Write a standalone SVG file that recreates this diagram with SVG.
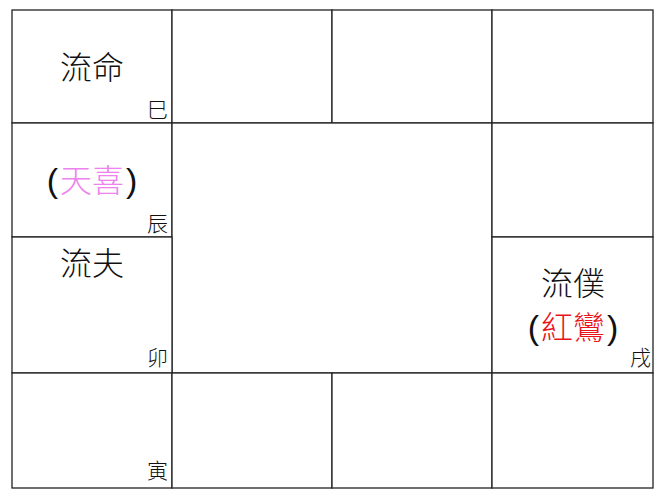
<svg xmlns="http://www.w3.org/2000/svg" width="661" height="495" viewBox="0 0 661 495">
<style>
.cell{fill:#fff;stroke:#222;stroke-width:1.3}
.main{font-family:"Noto Sans CJK TC","Noto Sans CJK SC",sans-serif;font-size:32px;font-weight:300;fill:#111;text-anchor:middle}
.par{font-family:"Liberation Sans","Noto Sans",sans-serif;font-weight:400;font-size:34px;fill:#111}
.br{font-family:"Noto Sans CJK TC","Noto Sans CJK SC",sans-serif;font-size:21px;font-weight:300;fill:#111;text-anchor:end}
.pink{fill:#EE82EE}
.red{fill:#E8141A}
</style>
<rect width="661" height="495" fill="#fff"/>
<g id="cell-si"><rect class="cell" x="12" y="10" width="160" height="113"/>
<text class="main" x="92" y="79">流命</text><text class="br" x="168" y="117">巳</text></g>
<g id="cell-wu"><rect class="cell" x="172" y="10" width="160" height="113"/></g>
<g id="cell-wei"><rect class="cell" x="332" y="10" width="160" height="113"/></g>
<g id="cell-shen"><rect class="cell" x="492" y="10" width="161" height="113"/></g>
<g id="cell-chen"><rect class="cell" x="12" y="123" width="160" height="114"/>
<text class="main" x="92" y="192"><tspan class="par">(</tspan><tspan class="pink" dx="2">天喜</tspan><tspan class="par" dx="2">)</tspan></text><text class="br" x="168" y="231">辰</text></g>
<g id="cell-center"><rect class="cell" x="172" y="123" width="320" height="250"/></g>
<g id="cell-you"><rect class="cell" x="492" y="123" width="161" height="114"/></g>
<g id="cell-mao"><rect class="cell" x="12" y="237" width="160" height="136"/>
<text class="main" x="92" y="275">流夫</text><text class="br" x="168" y="365">卯</text></g>
<g id="cell-xu"><rect class="cell" x="492" y="237" width="161" height="136"/>
<text class="main" x="573" y="295">流僕</text>
<text class="main" x="573" y="339"><tspan class="par">(</tspan><tspan class="red" dx="2">紅鸞</tspan><tspan class="par" dx="2">)</tspan></text><text class="br" x="651" y="365">戌</text></g>
<g id="cell-yin"><rect class="cell" x="12" y="373" width="160" height="115"/>
<text class="br" x="168" y="478">寅</text></g>
<g id="cell-chou"><rect class="cell" x="172" y="373" width="160" height="115"/></g>
<g id="cell-zi"><rect class="cell" x="332" y="373" width="160" height="115"/></g>
<g id="cell-hai"><rect class="cell" x="492" y="373" width="161" height="115"/></g>
<g id="connectors"></g>
</svg>
